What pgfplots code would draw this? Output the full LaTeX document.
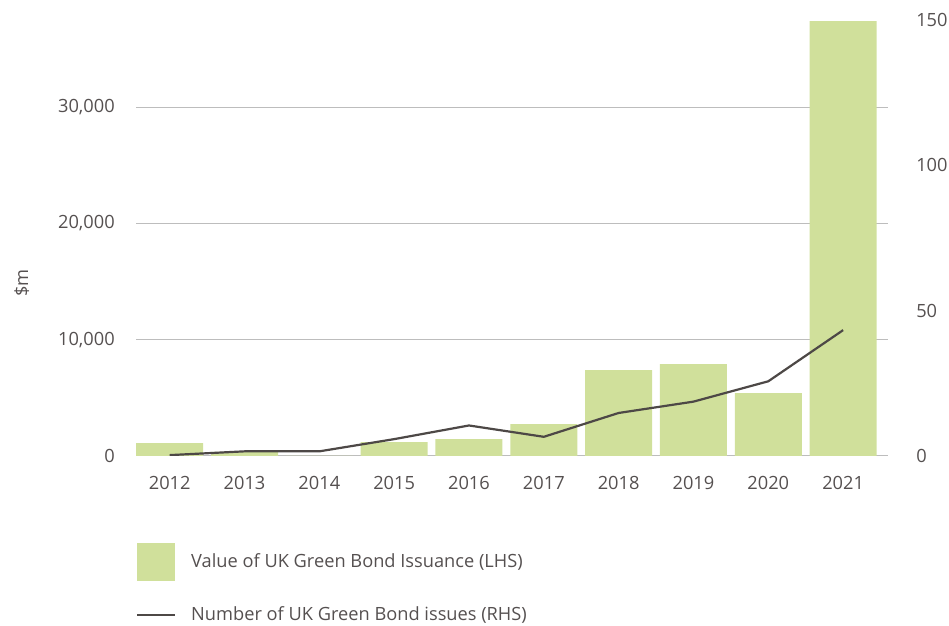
\documentclass[border=0pt]{standalone}
\usepackage{fontspec}
\setmainfont{Open Sans}
\usepackage{pgfplots}
\pgfplotsset{compat=1.18}
\definecolor{barg}{HTML}{D0E09B}
\definecolor{lineg}{HTML}{4D4846}
\definecolor{txt}{HTML}{555050}
\definecolor{gridc}{HTML}{BDBDBD}
\newcommand{\cf}{\fontsize{18.3}{21}\selectfont}
\begin{document}
\cf
\begin{tikzpicture}[x=1bp,y=1bp]
\path[use as bounding box] (0,0) rectangle (949,626);
\begin{axis}[
  at={(136bp,170bp)}, anchor=south west,
  scale only axis, width=752bp, height=436bp,
  xmin=-0.45, xmax=9.6, ymin=0, ymax=37500,
  scaled y ticks=false,
  axis x line*=bottom, axis y line*=left,
  x axis line style={gridc, line width=1bp, -},
  y axis line style={draw=none},
  major tick length=0,
  xtick={0,...,9},
  xticklabels={2012,2013,2014,2015,2016,2017,2018,2019,2020,2021},
  ytick={0,10000,20000,30000},
  yticklabels={0,{10,000},{20,000},{30,000}},
  ymajorgrids, grid style={gridc, line width=1bp},
  tick label style={txt, font=\cf},
  yticklabel style={anchor=east, xshift=-15bp},
  xticklabel style={anchor=north, yshift=-14bp},
  /pgf/number format/assume math mode=true,
  ylabel={\$m}, ylabel style={txt, font=\cf, at={(axis description cs:-0.152,0.397)}, anchor=center},
  legend style={at={(axis description cs:0,-0.1995)}, anchor=north west, draw=none, fill=none,
    inner sep=0pt, outer sep=0pt, nodes={inner sep=0pt, text=txt, font=\cf},
    column sep=15bp, row sep=26bp},
  legend cell align=left,
]
\addplot[ybar, bar width=67bp, fill=barg, draw=none,
  legend image code/.code={\fill[barg] (0bp,-19bp) rectangle (38bp,19bp);}]
  coordinates {(0,1110) (1,350) (2,0) (3,1200) (4,1460) (5,2750) (6,7380) (7,7900) (8,5400) (9,37400)};
\addlegendentry{Value of UK Green Bond Issuance (LHS)}
\addlegendimage{legend image code/.code={\draw[lineg, line width=2.2bp] (0bp,0bp) -- (38bp,0bp);}}
\addlegendentry{Number of UK Green Bond issues (RHS)}
\end{axis}
\begin{axis}[
  at={(136bp,170bp)}, anchor=south west,
  scale only axis, width=752bp, height=436bp,
  xmin=-0.45, xmax=9.6, ymin=0, ymax=150,
  axis x line=none, axis y line*=right,
  y axis line style={draw=none},
  major tick length=0,
  ytick={0,50,100,150},
  tick label style={txt, font=\cf},
  yticklabel style={anchor=west, xshift=22bp},
  /pgf/number format/assume math mode=true,
]
\addplot[lineg, line width=2.2bp, mark=none]
  coordinates {(0,0.3) (1,1.6) (2,1.6) (3,5.8) (4,10.5) (5,6.6) (6,14.8) (7,18.7) (8,25.7) (9,43.3)};
\end{axis}
\end{tikzpicture}
\end{document}
